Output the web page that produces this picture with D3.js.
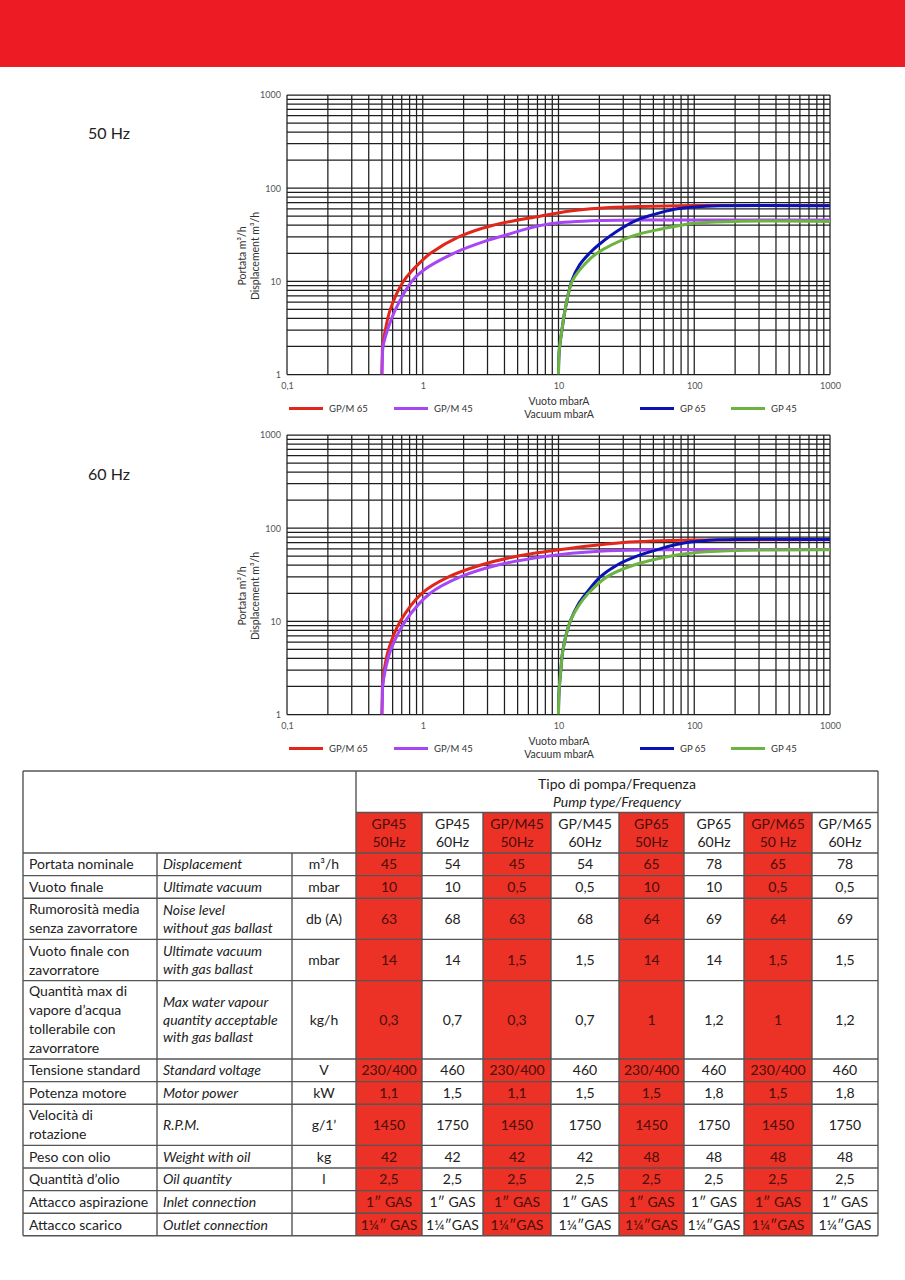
<!DOCTYPE html>
<html><head><meta charset="utf-8">
<script src="https://cdn.jsdelivr.net/npm/d3@7"></script>
<style>
body{margin:0;background:#fff;}
svg{display:block;}
</style></head><body>
<svg id="page" width="905" height="1280"></svg>
<script>
// ---------- DATA ----------
const xTickValues = [0.1, 1, 10, 100, 1000];
const xTickLabels = ["0,1", "1", "10", "100", "1000"];
const yTickValues = [1, 10, 100, 1000];
const yTickLabels = ["1", "10", "100", "1000"];
const seriesNames = ["GP/M 65", "GP/M 45", "GP 65", "GP 45"];
const chartTitles = ["50 Hz", "60 Hz"];

// 50 Hz curves: [vacuum mbarA, displacement m3/h]
const gpm65_50 = [[0.5,1],[0.503,1.5],[0.506,2],[0.53,3],[0.577,5],[0.72,10],[1,17],[1.14,20],[1.84,30],[3.3,40],[7.3,50],[12.2,57],[20,61],[40,63.5],[100,65],[1000,65]];
const gpm45_50 = [[0.5,1],[0.504,1.5],[0.51,2],[0.55,3],[0.63,5],[0.83,10],[1,13],[1.69,20],[3,27.5],[4,31],[6,37],[8.7,41.5],[20,45],[100,45.5],[1000,45.5]];
const gp65_50  = [[10,1],[10.06,1.5],[10.2,2],[10.6,3],[11.2,5],[12.5,10],[14.3,15],[16.9,20],[20,25],[30,38],[40,47],[50,52],[70,59],[100,62.7],[155,64.8],[1000,64.8]];
const gp45_50  = [[10,1],[10.06,1.5],[10.2,2],[10.6,3],[11.2,5],[12.6,10],[15.4,15],[19.2,20],[33.7,30],[50,35],[80,40],[100,42],[200,44],[1000,44]];

// 60 Hz curves
const gpm65_60 = [[0.5,1],[0.503,1.5],[0.505,2],[0.52,3],[0.56,5],[0.683,10],[0.986,20],[1.55,30],[2.65,40],[4.94,50],[11.5,60],[30,70],[100,74.5],[1000,75]];
const gpm45_60 = [[0.5,1],[0.504,1.5],[0.507,2],[0.53,3],[0.583,5],[0.743,10],[1.135,20],[1.89,30],[3.52,40],[8.2,50],[20,56.5],[50,58.5],[100,59],[1000,59]];
const gp65_60  = [[10,1],[10.05,1.5],[10.15,2],[10.4,3],[10.8,5],[12.2,10],[13.9,15],[16,20],[20.3,30],[26.9,40],[37.8,50],[56,60],[88,70],[150,75],[1000,75.5]];
const gp45_60  = [[10,1],[10.05,1.5],[10.15,2],[10.4,3],[10.8,5],[12.2,10],[14.2,15],[16.6,20],[22.7,30],[35.6,40],[66,50],[100,54.5],[200,57.5],[1000,58.5]];

// Table
const pumpTypes = ["GP45\n50Hz","GP45\n60Hz","GP/M45\n50Hz","GP/M45\n60Hz","GP65\n50Hz","GP65\n60Hz","GP/M65\n50 Hz","GP/M65\n60Hz"];
const rowLabelsIt = ["Portata nominale","Vuoto finale","Rumorosità media\nsenza zavorratore","Vuoto finale con\nzavorratore","Quantità max di\nvapore d’acqua\ntollerabile con\nzavorratore","Tensione standard","Potenza motore","Velocità di\nrotazione","Peso con olio","Quantità d’olio","Attacco aspirazione","Attacco scarico"];
const rowLabelsEn = ["Displacement","Ultimate vacuum","Noise level\nwithout gas ballast","Ultimate vacuum\nwith gas ballast","Max water vapour\nquantity acceptable\nwith gas ballast","Standard voltage","Motor power","R.P.M.","Weight with oil","Oil quantity","Inlet connection","Outlet connection"];
const rowUnits = ["m³/h","mbar","db (A)","mbar","kg/h","V","kW","g/1’","kg","l","",""];
const tableValues = [
  ["45","54","45","54","65","78","65","78"],
  ["10","10","0,5","0,5","10","10","0,5","0,5"],
  ["63","68","63","68","64","69","64","69"],
  ["14","14","1,5","1,5","14","14","1,5","1,5"],
  ["0,3","0,7","0,3","0,7","1","1,2","1","1,2"],
  ["230/400","460","230/400","460","230/400","460","230/400","460"],
  ["1,1","1,5","1,1","1,5","1,5","1,8","1,5","1,8"],
  ["1450","1750","1450","1750","1450","1750","1450","1750"],
  ["42","42","42","42","48","48","48","48"],
  ["2,5","2,5","2,5","2,5","2,5","2,5","2,5","2,5"],
  ["1″ GAS","1″ GAS","1″ GAS","1″ GAS","1″ GAS","1″ GAS","1″ GAS","1″ GAS"],
  ["1¼″ GAS","1¼″GAS","1¼″GAS","1¼″GAS","1¼″GAS","1¼″GAS","1¼″GAS","1¼″GAS"]
];
const headerTop = "Tipo di pompa/Frequenza";
const headerTopEn = "Pump type/Frequency";

// ---------- STYLE / LAYOUT ----------
const seriesColors = ["#e3261a", "#a646f5", "#0b12b5", "#6cb33f"];
const FONT = "Lato, 'Open Sans', sans-serif";
const svg = d3.select("#page");

svg.append("rect").attr("x",0).attr("y",0).attr("width",905).attr("height",67).attr("fill","#ed1c24");

const charts = [
  {top:95, bottom:374.5, series:[gpm65_50,gpm45_50,gp65_50,gp45_50], title:chartTitles[0], titleY:139},
  {top:435, bottom:714.5, series:[gpm65_60,gpm45_60,gp65_60,gp45_60], title:chartTitles[1], titleY:480}
];

charts.forEach((c, ci) => {
  const x = d3.scaleLog().domain([0.1,1000]).range([287,830]);
  const y = d3.scaleLog().domain([1,1000]).range([c.bottom,c.top]);
  const g = svg.append("g");

  svg.append("text").attr("x",88).attr("y",c.titleY).attr("font-family",FONT)
     .attr("font-size",16).attr("fill","#222").text(c.title);

  g.selectAll("line.vx").data(x.ticks()).enter().append("line")
    .attr("x1",d=>x(d)).attr("x2",d=>x(d)).attr("y1",c.top).attr("y2",c.bottom)
    .attr("stroke","#1e1e1e").attr("stroke-width",1.25);
  g.selectAll("line.hy").data(y.ticks()).enter().append("line")
    .attr("y1",d=>y(d)).attr("y2",d=>y(d)).attr("x1",287).attr("x2",830)
    .attr("stroke","#1e1e1e").attr("stroke-width",1.25);

  const xa = d3.axisBottom(x).tickValues(xTickValues).tickSize(0).tickPadding(0)
      .tickFormat((d,i)=>xTickLabels[i]);
  const gx = g.append("g").attr("transform",`translate(0,${c.bottom+8})`).call(xa);
  gx.select(".domain").remove();
  gx.selectAll("text").attr("font-family",FONT).attr("font-size",9).attr("fill","#555");

  const ya = d3.axisLeft(y).tickValues(yTickValues).tickSize(0).tickPadding(6)
      .tickFormat((d,i)=>yTickLabels[i]);
  const gy = g.append("g").attr("transform",`translate(287,0)`).call(ya);
  gy.select(".domain").remove();
  gy.selectAll("text").attr("font-family",FONT).attr("font-size",9).attr("fill","#555");

  const midY = c.top + 161;
  g.append("text").attr("transform",`translate(246,${midY}) rotate(-90)`).attr("text-anchor","middle")
    .attr("font-family",FONT).attr("font-size",10.5).attr("fill","#333").text("Portata m³/h");
  g.append("text").attr("transform",`translate(259,${midY}) rotate(-90)`).attr("text-anchor","middle")
    .attr("font-family",FONT).attr("font-size",10.5).attr("fill","#333").text("Displacement m³/h");
  g.append("text").attr("x",559).attr("y",c.bottom+30).attr("text-anchor","middle")
    .attr("font-family",FONT).attr("font-size",10.5).attr("fill","#333").text("Vuoto mbarA");
  g.append("text").attr("x",559).attr("y",c.bottom+43).attr("text-anchor","middle")
    .attr("font-family",FONT).attr("font-size",10.5).attr("fill","#333").text("Vacuum mbarA");

  const clipId = "clip"+ci;
  svg.append("clipPath").attr("id",clipId).append("rect")
     .attr("x",287).attr("y",c.top-2).attr("width",543).attr("height",c.bottom-c.top+2);
  const line = d3.line().x(d=>x(d[0])).y(d=>y(d[1])).curve(d3.curveCatmullRom.alpha(0.5));
  c.series.forEach((s, si) => {
    g.append("path").attr("d",line(s)).attr("fill","none")
      .attr("stroke",seriesColors[si]).attr("stroke-width",3).attr("clip-path",`url(#${clipId})`);
  });

  const legX = [289, 394, 640, 731];
  const ly = c.bottom + 34;
  seriesNames.forEach((n,i) => {
    g.append("line").attr("x1",legX[i]).attr("x2",legX[i]+34).attr("y1",ly).attr("y2",ly)
      .attr("stroke",seriesColors[i]).attr("stroke-width",3);
    g.append("text").attr("x",legX[i]+40).attr("y",ly+3.5).attr("font-family",FONT)
      .attr("font-size",9.5).attr("fill","#333").text(n);
  });
});

// ---------- TABLE ----------
const colEdges = [23,157,292,356,422,483,551,619,684,744,812,878];
const tTop = 771, tHdr1 = 812.5, tHdr2 = 853;
const lineH = 18.6, baseH = 22.6;
const rowH = rowLabelsIt.map(s => baseH + (s.split("\n").length-1)*lineH);
const rowY = [tHdr2];
rowH.forEach((h,i)=>rowY.push(rowY[i]+h));
const tBottom = rowY[rowY.length-1];
const tg = svg.append("g");
const RED = "#ec3126";
const isRed = j => j % 2 === 0;

pumpTypes.forEach((p,j)=>{
  if (isRed(j)) tg.append("rect").attr("x",colEdges[j+3]).attr("y",tHdr1)
    .attr("width",colEdges[j+4]-colEdges[j+3]).attr("height",tBottom-tHdr1).attr("fill",RED);
});

function multiText(xp, yc, str, opts) {
  const lines = str.split("\n");
  const lh = opts.lh || 18.6;
  const t = tg.append("text").attr("font-family",FONT).attr("font-size",opts.size||14)
    .attr("fill",opts.fill||"#222").attr("text-anchor",opts.anchor||"start")
    .attr("font-style",opts.italic?"italic":"normal");
  lines.forEach((l,k)=>{
    t.append("tspan").attr("x",xp).attr("y", yc + (k-(lines.length-1)/2)*lh + 5).text(l);
  });
  return t;
}

const hdr = multiText((356+878)/2, 793, headerTop + "\n" + headerTopEn, {anchor:"middle", size:14, lh:17.5});
hdr.selectAll("tspan").filter((d,i)=>i===1).attr("font-style","italic");

pumpTypes.forEach((p,j)=>{
  const cx = (colEdges[j+3]+colEdges[j+4])/2;
  multiText(cx, (tHdr1+tHdr2)/2, p, {anchor:"middle", size:14, lh:18, fill: isRed(j)?"#4a0d08":"#222"});
});

rowLabelsIt.forEach((lab,i)=>{
  const yc = (rowY[i]+rowY[i+1])/2;
  multiText(29, yc, lab, {size:14, lh:19});
  multiText(163, yc, rowLabelsEn[i], {size:14, lh:17.5, italic:true});
  multiText((292+356)/2, yc, rowUnits[i], {size:14, anchor:"middle"});
  tableValues[i].forEach((v,j)=>{
    const cx = (colEdges[j+3]+colEdges[j+4])/2;
    multiText(cx, yc, v, {size:14, anchor:"middle", fill: isRed(j)?"#4a0d08":"#222"});
  });
});

const bc = "#555", bw = 1.4;
function hl(x1,x2,yv){tg.append("line").attr("x1",x1).attr("x2",x2).attr("y1",yv).attr("y2",yv).attr("stroke",bc).attr("stroke-width",bw);}
function vl(xv,y1,y2){tg.append("line").attr("x1",xv).attr("x2",xv).attr("y1",y1).attr("y2",y2).attr("stroke",bc).attr("stroke-width",bw);}
hl(23,878,tTop);
hl(356,878,tHdr1);
rowY.forEach(yv=>hl(23,878,yv));
vl(23,tTop,tBottom); vl(878,tTop,tBottom); vl(356,tTop,tBottom);
vl(157,tHdr2,tBottom); vl(292,tHdr2,tBottom);
colEdges.slice(4,11).forEach(xv=>vl(xv,tHdr1,tBottom));
</script>
</body></html>
